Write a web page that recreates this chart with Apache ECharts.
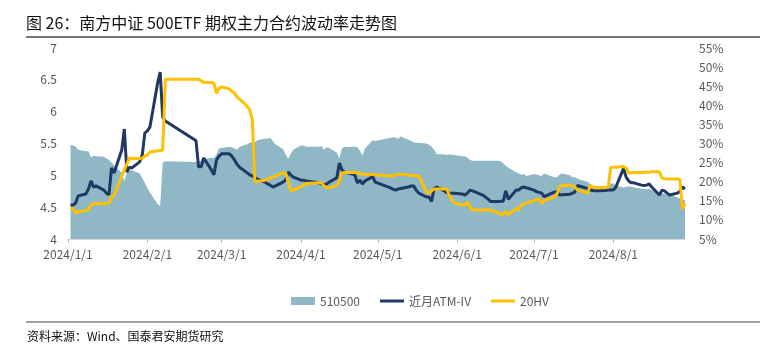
<!DOCTYPE html>
<html>
<head>
<meta charset="utf-8">
<script src="https://cdn.jsdelivr.net/npm/echarts@6/dist/echarts.min.js"></script>
<style>
  html, body { margin: 0; padding: 0; background: #fff; }
  #main { width: 775px; height: 351px; }
</style>
</head>
<body>
<div id="main"></div>
<script>
// 交易日
var dates = [
  // 1月
  '2024-01-02','2024-01-03','2024-01-04','2024-01-05','2024-01-08','2024-01-09','2024-01-10','2024-01-11',
  '2024-01-12','2024-01-15','2024-01-16','2024-01-17','2024-01-18','2024-01-19','2024-01-22','2024-01-23',
  '2024-01-24','2024-01-25','2024-01-26','2024-01-29','2024-01-30','2024-01-31',
  // 2月
  '2024-02-01','2024-02-02','2024-02-05','2024-02-06','2024-02-07','2024-02-08','2024-02-19','2024-02-20',
  '2024-02-21','2024-02-22','2024-02-23','2024-02-26','2024-02-27','2024-02-28','2024-02-29',
  // 3月
  '2024-03-01','2024-03-04','2024-03-05','2024-03-06','2024-03-07','2024-03-08','2024-03-11','2024-03-12',
  '2024-03-13','2024-03-14','2024-03-15','2024-03-18','2024-03-19','2024-03-20','2024-03-21','2024-03-22',
  '2024-03-25','2024-03-26','2024-03-27','2024-03-28','2024-03-29',
  // 4月
  '2024-04-01','2024-04-02','2024-04-03','2024-04-08','2024-04-09','2024-04-10','2024-04-11','2024-04-12',
  '2024-04-15','2024-04-16','2024-04-17','2024-04-18','2024-04-19','2024-04-22','2024-04-23','2024-04-24',
  '2024-04-25','2024-04-26','2024-04-29','2024-04-30',
  // 5月
  '2024-05-06','2024-05-07','2024-05-08','2024-05-09','2024-05-10','2024-05-13','2024-05-14','2024-05-15',
  '2024-05-16','2024-05-17','2024-05-20','2024-05-21','2024-05-22','2024-05-23','2024-05-24','2024-05-27',
  '2024-05-28','2024-05-29','2024-05-30','2024-05-31',
  // 6月
  '2024-06-03','2024-06-04','2024-06-05','2024-06-06','2024-06-07','2024-06-11','2024-06-12','2024-06-13',
  '2024-06-14','2024-06-17','2024-06-18','2024-06-19','2024-06-20','2024-06-21','2024-06-24','2024-06-25',
  '2024-06-26','2024-06-27','2024-06-28',
  // 7月
  '2024-07-01','2024-07-02','2024-07-03','2024-07-04','2024-07-05','2024-07-08','2024-07-09','2024-07-10',
  '2024-07-11','2024-07-12','2024-07-15','2024-07-16','2024-07-17','2024-07-18','2024-07-19','2024-07-22',
  '2024-07-23','2024-07-24','2024-07-25','2024-07-26','2024-07-29','2024-07-30','2024-07-31',
  // 8月
  '2024-08-01','2024-08-02','2024-08-05','2024-08-06','2024-08-07','2024-08-08','2024-08-09','2024-08-12',
  '2024-08-13','2024-08-14','2024-08-15','2024-08-16','2024-08-19','2024-08-20','2024-08-21','2024-08-22',
  '2024-08-23','2024-08-26','2024-08-27','2024-08-28','2024-08-29'
];

// 510500 收盘价（左轴）
var etfPrice = [
  5.48,5.47,5.45,5.40,5.38,5.38,5.28,5.31,5.30,5.29,5.27,5.24,5.20,5.16,5.04,4.91,5.04,5.08,5.08,5.03,4.96,4.88,
  4.80,4.73,4.55,4.52,5.20,5.22,5.21,5.21,5.22,5.23,5.25,5.28,5.27,5.33,5.42,
  5.43,5.45,5.44,5.42,5.40,5.45,5.49,5.51,5.52,5.52,5.55,5.58,5.58,5.59,5.54,5.49,5.41,5.33,5.26,5.34,5.40,
  5.47,5.47,5.45,5.45,5.46,5.40,5.44,5.43,5.36,5.27,5.42,5.45,5.44,5.45,5.44,5.39,5.31,5.42,5.55,5.54,
  5.59,5.60,5.59,5.58,5.61,5.56,5.54,5.52,5.51,5.51,5.50,5.48,5.45,5.40,5.33,5.33,5.32,5.33,5.32,5.32,
  5.30,5.30,5.28,5.24,5.23,5.23,5.23,5.23,5.23,5.23,5.22,5.19,5.15,5.12,5.05,5.03,5.01,5.02,4.99,
  5.02,5.01,5.00,4.99,5.03,4.98,4.97,4.97,5.01,5.03,5.00,4.97,4.97,4.95,4.93,4.90,4.86,4.82,4.83,4.83,4.83,4.82,4.87,
  4.87,4.84,4.81,4.82,4.83,4.82,4.81,4.79,4.79,4.78,4.79,4.77,4.73,4.72,4.71,4.69,4.70,4.65,4.64,4.62,4.61
];

// 近月ATM-IV（%，右轴）
var atmIV = [
  13.9,13.9,14.4,16.3,16.8,18.1,20.2,18.6,18.9,17.8,17.0,16.6,23.6,22.3,28.3,33.8,22.5,23.8,23.6,25.2,27.0,32.7,
  33.3,34.3,45.8,48.7,36.9,35.9,31.2,30.7,23.9,23.9,26.2,23.1,21.8,25.7,26.7,
  27.3,27.3,26.7,25.7,24.6,23.8,22.3,21.8,21.5,21.1,20.7,19.9,19.4,19.1,18.6,18.9,19.9,20.4,22.5,21.8,21.2,
  20.4,20.4,20.2,19.7,19.4,19.1,19.4,19.9,21.0,24.9,23.1,22.5,22.4,21.8,19.7,20.4,19.4,20.2,21.3,19.9,
  18.4,18.0,17.8,18.1,18.2,18.6,18.9,18.9,17.8,17.0,16.0,16.0,14.8,18.2,18.6,17.6,17.1,17.0,17.0,17.0,
  16.8,16.5,17.0,17.8,17.6,16.5,16.0,15.5,14.8,14.8,14.9,14.9,17.6,15.4,17.8,17.8,18.4,18.6,18.4,
  17.8,17.4,17.2,17.0,16.1,17.0,17.3,17.4,16.5,16.6,16.7,17.0,17.3,19.0,18.8,18.2,17.8,17.7,17.6,17.6,17.7,17.8,17.8,
  17.8,18.6,23.5,21.2,20.2,19.7,19.7,19.1,19.0,19.1,19.4,18.6,16.5,17.8,17.6,17.0,16.5,17.0,17.4,18.6,18.1
];

// 20HV（%，右轴）
var hv20 = [
  13.0,12.9,11.8,12.1,12.5,12.6,13.9,14.2,14.3,14.3,14.3,14.4,16.0,16.3,21.5,23.1,24.6,26.2,26.1,26.1,26.2,26.7,
  27.0,27.8,28.1,28.1,28.3,46.8,46.8,46.8,46.8,46.4,46.0,46.0,45.8,43.1,44.5,
  44.8,44.3,43.7,43.2,42.2,41.6,39.8,38.8,36.2,20.0,20.1,20.4,20.6,21.0,21.2,21.5,22.3,22.3,20.0,17.6,17.8,
  18.7,19.1,19.5,19.7,19.7,18.9,18.4,18.4,19.1,20.2,22.3,22.4,22.4,22.4,22.4,22.1,22.0,21.9,21.9,21.8,
  21.5,21.5,21.8,21.9,21.9,21.8,21.6,21.6,21.5,21.5,17.4,17.0,17.6,18.1,18.1,18.1,18.1,16.3,15.2,14.4,
  13.9,13.9,14.6,13.4,12.6,12.6,12.6,12.6,12.6,11.8,11.5,11.5,12.3,11.3,13.0,12.6,13.8,14.2,14.4,
  15.0,15.3,15.5,14.3,15.1,15.7,16.0,16.8,18.7,19.0,19.1,18.9,18.6,17.8,17.6,17.0,19.1,18.6,18.4,18.4,18.5,18.5,23.7,
  23.8,23.8,24.0,23.6,22.3,22.3,22.4,22.4,22.5,22.5,22.5,22.6,22.6,21.0,20.8,20.7,20.7,20.7,20.6,12.9,14.2
];

var leftTicks = [4, 7, 0.5];   // min, max, interval
var rightTicks = [5, 55, 5];

var FONT = '"Noto Sans CJK SC", "Noto Sans", sans-serif';
var DAY = 24 * 3600 * 1000;
var LINE_ICON = 'path://M0,0L24,0L24,3L0,3Z';

function pairs(vals) {
  return dates.map(function (d, i) { return [d, vals[i]]; });
}

var myChart = echarts.init(document.getElementById('main'));

var option = {
  backgroundColor: '#fff',
  animation: false,
  textStyle: { fontFamily: FONT },
  title: {
    text: '图 26：南方中证 500ETF 期权主力合约波动率走势图',
    left: 21,
    top: 10,
    textStyle: { fontSize: 16, fontWeight: 'normal', color: '#111', fontFamily: FONT }
  },
  grid: { left: 68, right: 90, top: 48, bottom: 112, containLabel: false },
  legend: {
    left: 286,
    top: 290,
    itemWidth: 24,
    itemHeight: 8,
    itemGap: 20,
    textStyle: { fontSize: 12, color: '#595959', fontFamily: FONT },
    data: [
      { name: '510500', icon: 'rect' },
      { name: '近月ATM-IV', icon: LINE_ICON },
      { name: '20HV', icon: LINE_ICON }
    ]
  },
  xAxis: {
    type: 'time',
    min: '2024-01-01',
    max: '2024-08-29',
    minInterval: 28 * DAY,
    maxInterval: 31 * DAY,
    axisLine: { lineStyle: { color: '#d9d9d9' } },
    axisTick: { show: true, length: 4, lineStyle: { color: '#bfbfbf' } },
    splitLine: { show: false },
    axisLabel: {
      color: '#595959',
      fontSize: 12,
      margin: 9,
      formatter: function (v) {
        var d = new Date(v);
        return d.getFullYear() + '/' + (d.getMonth() + 1) + '/' + d.getDate();
      }
    }
  },
  yAxis: [
    {
      type: 'value',
      min: leftTicks[0], max: leftTicks[1], interval: leftTicks[2],
      axisLine: { show: false },
      axisTick: { show: false },
      splitLine: { show: false },
      axisLabel: { color: '#595959', fontSize: 12, margin: 11 }
    },
    {
      type: 'value',
      min: rightTicks[0], max: rightTicks[1], interval: rightTicks[2],
      position: 'right',
      axisLine: { show: false },
      axisTick: { show: false },
      splitLine: { show: false },
      axisLabel: { color: '#595959', fontSize: 12, margin: 14, formatter: '{value}%' }
    }
  ],
  series: [
    {
      name: '510500',
      type: 'line',
      yAxisIndex: 0,
      data: pairs(etfPrice),
      symbol: 'none',
      lineStyle: { width: 0, color: '#8fb7c6' },
      itemStyle: { color: '#8fb7c6' },
      areaStyle: { color: '#8fb7c6', opacity: 1, origin: 'start' },
      z: 1
    },
    {
      name: '近月ATM-IV',
      type: 'line',
      yAxisIndex: 1,
      data: pairs(atmIV),
      symbol: 'none',
      lineStyle: { width: 3, color: '#1f3864' },
      itemStyle: { color: '#1f3864' },
      z: 2
    },
    {
      name: '20HV',
      type: 'line',
      yAxisIndex: 1,
      data: pairs(hv20),
      symbol: 'none',
      lineStyle: { width: 3, color: '#ffc000' },
      itemStyle: { color: '#ffc000' },
      z: 3
    }
  ],
  graphic: [
    { type: 'line', shape: { x1: 26, y1: 37, x2: 760, y2: 37 }, style: { stroke: '#444', lineWidth: 1.5 } },
    { type: 'line', shape: { x1: 26, y1: 322, x2: 760, y2: 322 }, style: { stroke: '#444', lineWidth: 1.2 } },
    {
      type: 'text', left: 27, top: 330,
      style: { text: '资料来源：Wind、国泰君安期货研究', font: '12px ' + FONT, fill: '#111' }
    }
  ]
};

myChart.setOption(option);
</script>
</body>
</html>
